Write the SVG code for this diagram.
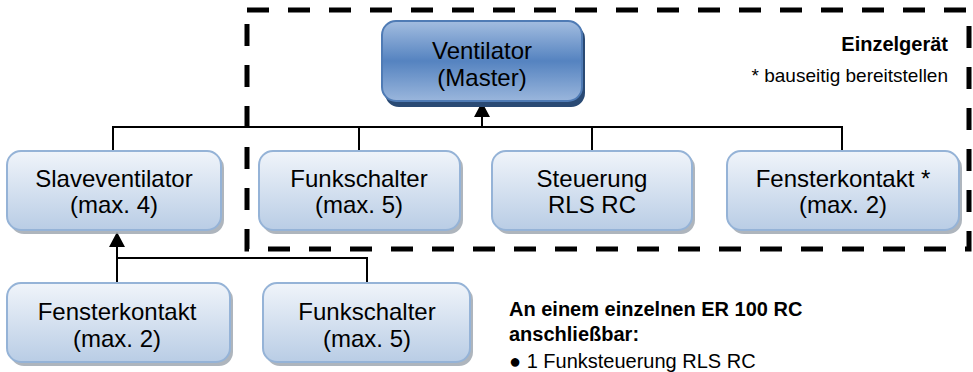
<svg xmlns="http://www.w3.org/2000/svg" width="973" height="372" viewBox="0 0 973 372">
<defs>
<linearGradient id="lg" x1="0" y1="0" x2="0" y2="1">
<stop offset="0" stop-color="#f0f4fa"/>
<stop offset="1" stop-color="#b9cde5"/>
</linearGradient>
<linearGradient id="mg" x1="0" y1="0" x2="0" y2="1">
<stop offset="0" stop-color="#a3bde0"/>
<stop offset="0.5" stop-color="#5583c0"/>
<stop offset="1" stop-color="#9ab6dc"/>
</linearGradient>
</defs>
<style>
.box{fill:url(#lg);stroke:#95b3d7;stroke-width:2}
.sh{fill:#9aa3ad;opacity:0.8}
.t{font-family:"Liberation Sans",Arial,sans-serif;font-size:24px;fill:#000;text-anchor:middle}
.ln{stroke:#000;stroke-width:2;fill:none}
.ah{fill:#000}
</style>
<rect x="247" y="10" width="722" height="239" fill="none" stroke="#000" stroke-width="5" stroke-dasharray="22 19"/>
<g id="connectors">
<path class="ln" d="M113,150 V127 H842 V150 M359,127 V150 M592,127 V150"/>
<path class="ln" d="M482,127 V114"/>
<polygon class="ah" points="482,102 474,117 490,117"/>
<path class="ln" d="M367,284 V258 H117"/>
<path class="ln" d="M117,284 V244"/>
<polygon class="ah" points="117,232 109,247 125,247"/>
</g>
<g id="master">
<rect x="385" y="25" width="200" height="82" rx="14" fill="#2a4a74"/>
<rect x="382" y="21" width="200" height="80" rx="14" fill="url(#mg)" stroke="#4f7bb5" stroke-width="2"/>
<text class="t" x="482" y="59">Ventilator</text>
<text class="t" x="482" y="86">(Master)</text>
</g>
<g id="slave">
<rect class="sh" x="10" y="154" width="214" height="80" rx="14"/>
<rect class="box" x="7" y="151" width="214" height="79" rx="14"/>
<text class="t" x="114" y="187">Slaveventilator</text>
<text class="t" x="114" y="213">(max. 4)</text>
</g>
<g id="funk1">
<rect class="sh" x="262" y="154" width="201" height="80" rx="14"/>
<rect class="box" x="259" y="151" width="201" height="79" rx="14"/>
<text class="t" x="359" y="187">Funkschalter</text>
<text class="t" x="359" y="213">(max. 5)</text>
</g>
<g id="steuerung">
<rect class="sh" x="495" y="154" width="200" height="80" rx="14"/>
<rect class="box" x="492" y="151" width="200" height="79" rx="14"/>
<text class="t" x="592" y="187">Steuerung</text>
<text class="t" x="592" y="213">RLS RC</text>
</g>
<g id="fenster1">
<rect class="sh" x="730" y="154" width="232" height="80" rx="14"/>
<rect class="box" x="727" y="151" width="232" height="79" rx="14"/>
<text class="t" x="843" y="187">Fensterkontakt *</text>
<text class="t" x="843" y="213">(max. 2)</text>
</g>
<g id="fenster2">
<rect class="sh" x="10" y="286" width="223" height="80" rx="14"/>
<rect class="box" x="7" y="283" width="223" height="79" rx="14"/>
<text class="t" x="117" y="320">Fensterkontakt</text>
<text class="t" x="117" y="347">(max. 2)</text>
</g>
<g id="funk2">
<rect class="sh" x="266" y="286" width="207" height="80" rx="14"/>
<rect class="box" x="263" y="283" width="207" height="79" rx="14"/>
<text class="t" x="367" y="320">Funkschalter</text>
<text class="t" x="367" y="347">(max. 5)</text>
</g>
<g id="labels" font-family="'Liberation Sans',Arial,sans-serif" fill="#000">
<text x="948" y="51" font-size="20" font-weight="bold" text-anchor="end">Einzelgerät</text>
<text x="948" y="82" font-size="19" text-anchor="end">* bauseitig bereitstellen</text>
<text x="509" y="316" font-size="20" font-weight="bold">An einem einzelnen ER 100 RC</text>
<text x="509" y="341" font-size="20" font-weight="bold">anschließbar:</text>
<text x="509" y="368" font-size="20">● 1 Funksteuerung RLS RC</text>
</g>
</svg>
